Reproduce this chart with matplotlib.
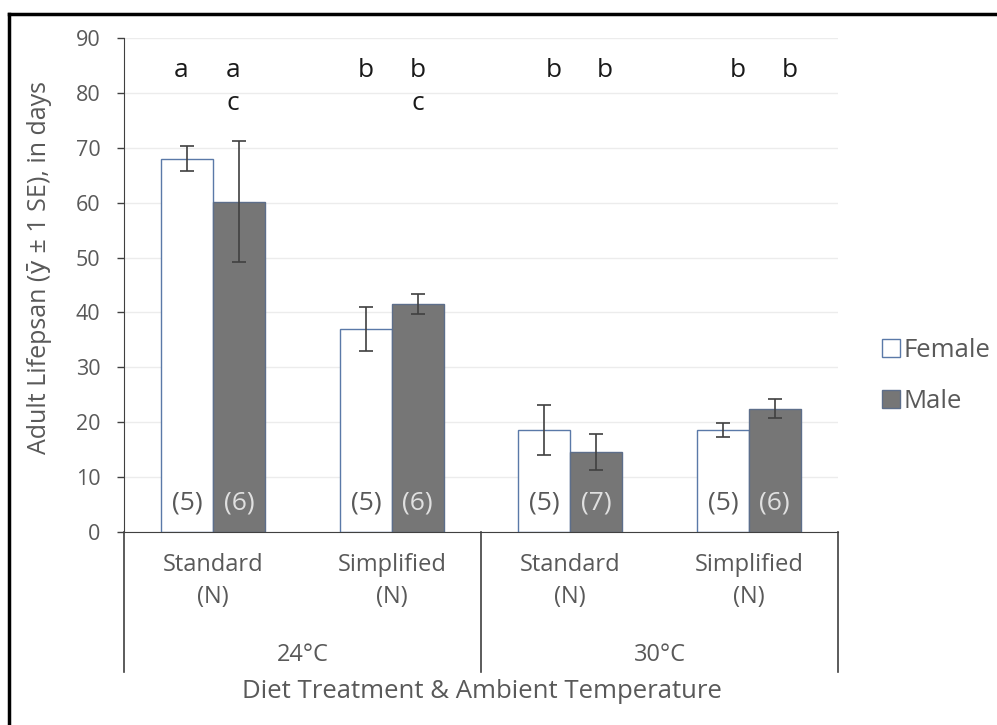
import numpy as np
import matplotlib
matplotlib.use('Agg')
import matplotlib.pyplot as plt
from matplotlib.patches import Patch
from matplotlib.lines import Line2D

plt.rcParams['font.family'] = ['Open Sans', 'DejaVu Sans']

# data
diets = ['Standard', 'Simplified', 'Standard', 'Simplified']
temps = ['24°C', '30°C']
female = [68.0, 37.0, 18.6, 18.6]
female_se = [2.3, 4.0, 4.6, 1.3]
male = [60.2, 41.5, 14.6, 22.5]
male_se = [11.1, 1.8, 3.3, 1.8]
female_n = ['(5)', '(5)', '(5)', '(5)']
male_n = ['(6)', '(6)', '(7)', '(6)']
female_letters = ['a', 'b', 'b', 'b']
male_letters = ['a', 'b', 'b', 'b']
male_letters2 = ['c', 'c', '', '']

grey = '#595959'
W, H = 997, 725
fig = plt.figure(figsize=(W / 100, H / 100), dpi=100)
ax = fig.add_axes([124 / W, 1 - 532 / H, 714 / W, 494 / H])

centers = np.arange(len(diets)) + 0.5
bw = 0.29
ax.bar(centers - bw / 2, female, bw, color='white', edgecolor='#5a79a8', linewidth=1.0, zorder=2)
ax.bar(centers + bw / 2, male, bw, color='#767676', edgecolor='#5d6e8a', linewidth=1.0, zorder=2)
ax.errorbar(centers - bw / 2, female, yerr=female_se, fmt='none', ecolor='#404040',
            elinewidth=1.2, capsize=5, capthick=1.2, zorder=3)
ax.errorbar(centers + bw / 2, male, yerr=male_se, fmt='none', ecolor='#404040',
            elinewidth=1.2, capsize=5, capthick=1.2, zorder=3)

# the letter labels were nudged by hand in the original (pixels)
letter_dx = [-6, 0, 9, 15]
px = 1 / 178.5
for i, c in enumerate(centers):
    ax.text(c - bw / 2, 5.2, female_n[i], ha='center', va='center', fontsize=19, color=grey, zorder=4)
    ax.text(c + bw / 2, 5.2, male_n[i], ha='center', va='center', fontsize=19, color='#e0e0e0', zorder=4)
    d = letter_dx[i] * px
    ax.text(c - bw / 2 + d, 82.9, female_letters[i], ha='center', va='baseline', fontsize=19, color='#1a1a1a')
    ax.text(c + bw / 2 + d, 82.9, male_letters[i], ha='center', va='baseline', fontsize=19, color='#1a1a1a')
    ax.text(c + bw / 2 + d, 76.8, male_letters2[i], ha='center', va='baseline', fontsize=19, color='#1a1a1a')

ax.set_xlim(0, len(diets))
ax.set_ylim(0, 90)
ax.set_yticks(np.arange(0, 91, 10))
ax.yaxis.grid(True, color='#ececec', linewidth=1.0)
ax.set_axisbelow(True)
ax.tick_params(axis='y', direction='out', length=5, width=1, color='#404040',
               labelcolor=grey, labelsize=15.5, pad=12)
ax.set_xticks([])
for s in ['top', 'right']:
    ax.spines[s].set_visible(False)
ax.spines['left'].set_color('#404040')
ax.spines['bottom'].set_color('#404040')

# multi-level category axis
tr = ax.get_xaxis_transform()
ax_h = 494.0
def ay(py):
    return (532 - py) / ax_h
for i, c in enumerate(centers):
    ax.text(c, ay(565), diets[i], transform=tr, ha='center', va='center', fontsize=17, color=grey)
    ax.text(c, ay(597), '(N)', transform=tr, ha='center', va='center', fontsize=17, color=grey)
for j, t in enumerate(temps):
    ax.text(2 * j + 1, ay(655), t, transform=tr, ha='center', va='center', fontsize=17, color=grey)
for xs in [0, 2, 4]:
    ax.add_line(Line2D([xs, xs], [0, ay(672)], transform=tr, color='#404040', linewidth=1.2,
                       clip_on=False))

fig.text(482 / W, 1 - 692 / H, 'Diet Treatment & Ambient Temperature', ha='center', va='center',
         fontsize=18.5, color=grey)
fig.text(40 / W, 1 - 268 / H, 'Adult Lifepsan (ȳ ± 1 SE), in days', ha='center', va='center',
         rotation=90, fontsize=18, color=grey)

handles = [Patch(facecolor='white', edgecolor='#5a79a8', label='Female'),
           Patch(facecolor='#767676', edgecolor='#5d6e8a', label='Male')]
leg = fig.legend(handles=handles, loc='center left', bbox_to_anchor=(882 / W, 1 - 376 / H),
                 frameon=False, fontsize=18.5, handlelength=0.7, handleheight=0.7,
                 handletextpad=0.15, labelspacing=1.0, borderaxespad=0, borderpad=0)
for t in leg.get_texts():
    t.set_color(grey)

# border of the cropped picture
fig.add_artist(Line2D([9 / W, 9 / W], [0, 1 - 14 / H], transform=fig.transFigure, color='black', linewidth=2.5))
fig.add_artist(Line2D([9 / W, 1], [1 - 14 / H, 1 - 14 / H], transform=fig.transFigure, color='black', linewidth=2.5))

fig.savefig('out.png', dpi=100)
